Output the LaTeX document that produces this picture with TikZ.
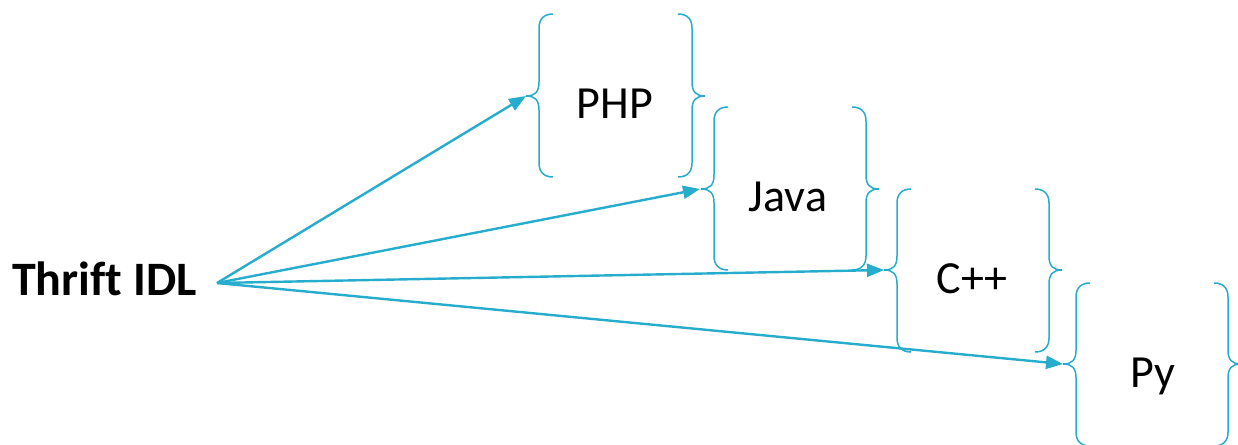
\documentclass[tikz,border=0pt]{standalone}
\usepackage{fontspec}
\setmainfont{Carlito}[Ligatures=CommonOff]
\usetikzlibrary{arrows.meta}
\definecolor{acc}{RGB}{38,172,204}
\newcommand\mybraceL[4]{% xv, top, tip, bottom
  \draw[bracestyle] (#1+14,#2) .. controls (#1+5,#2) and (#1,#2+5) .. (#1,#2+14)
    -- (#1,#3-14) .. controls (#1,#3-4) and (#1-4,#3) .. (#1-13,#3)
    .. controls (#1-4,#3) and (#1,#3+4) .. (#1,#3+14)
    -- (#1,#4-14) .. controls (#1,#4-5) and (#1+5,#4) .. (#1+14,#4);}
\newcommand\mybraceR[4]{%
  \draw[bracestyle] (#1-14,#2) .. controls (#1-5,#2) and (#1,#2+5) .. (#1,#2+14)
    -- (#1,#3-14) .. controls (#1,#3-4) and (#1+4,#3) .. (#1+13,#3)
    .. controls (#1+4,#3) and (#1,#3+4) .. (#1,#3+14)
    -- (#1,#4-14) .. controls (#1,#4-5) and (#1-5,#4) .. (#1-14,#4);}
\tikzset{
  bracestyle/.style={draw=acc, line width=1.5pt},
  conn/.style={draw=acc, line width=2.4pt, -{Triangle[length=17pt,width=13pt]}},
  lang/.style={font=\fontsize{46}{50}\selectfont, inner sep=0pt, text=black},
  src/.style={font=\fontsize{48}{52}\selectfont\bfseries, inner sep=0pt, text=black}
}
\begin{document}
\begin{tikzpicture}[x=1pt,y=-1pt]
\useasboundingbox (0,0) rectangle (1238,444);
% braces
\mybraceL{539}{14}{96}{177}
\mybraceR{692}{14}{96}{177}
\mybraceL{714}{107}{189}{270}
\mybraceR{866}{107}{189}{270}
\mybraceL{897}{189}{270}{352}
\mybraceR{1049}{189}{270}{352}
\mybraceL{1076}{283}{364}{446}
\mybraceR{1228}{283}{364}{446}
% labels
\node[src, anchor=base west] (thrift) at (12,295) {Thrift IDL};
\node[lang, anchor=base] (php) at (615,118) {PHP};
\node[lang, anchor=base] (java) at (788,211) {Java};
\node[lang, anchor=base] (cpp) at (972,293) {C++};
\node[lang, anchor=base] (py) at (1153,387) {Py};
% connector ends
\coordinate (s) at (217,283);
\coordinate (tphp) at (526,96);
\coordinate (tjava) at (700,189);
\coordinate (tcpp) at (884,270);
\coordinate (tpy) at (1063,364);
\draw[conn] (s) -- (tphp);
\draw[conn] (s) -- (tjava);
\draw[conn] (s) -- (tcpp);
\draw[conn] (s) -- (tpy);
\end{tikzpicture}
\end{document}
